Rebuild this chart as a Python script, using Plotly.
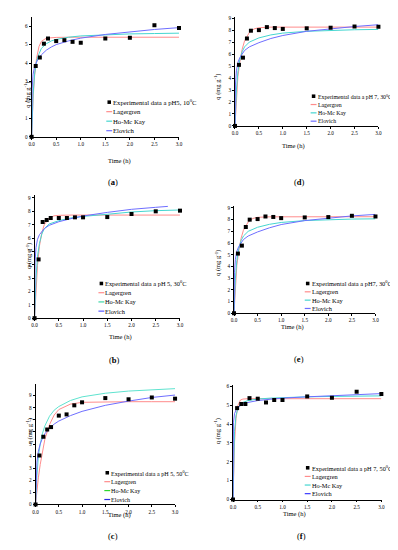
import plotly.graph_objects as go

W, H = 398, 550

# ---------------- data ----------------
t_exp = [0, 0.083, 0.167, 0.25, 0.333, 0.5, 0.667, 0.833, 1.0, 1.5, 2.0, 2.5, 3.0]
t_fit = [0, 0.01, 0.03, 0.06, 0.1, 0.15, 0.2, 0.3, 0.4, 0.5, 0.75, 1.0, 1.5, 2.0, 2.5, 3.0]
t_fit_b_elovich = [0, 0.01, 0.03, 0.06, 0.1, 0.15, 0.2, 0.3, 0.4, 0.5, 0.75, 1.0, 1.5, 2.0, 2.5, 2.75]

# (a) pH5, 10 C
q_a = [0, 3.84, 4.3, 5.05, 5.33, 5.19, 5.24, 5.15, 5.1, 5.33, 5.37, 6.05, 5.9]
lag_a = [0, 0.8, 2.1, 3.3, 4.25, 4.9, 5.18, 5.35, 5.38, 5.39, 5.4, 5.4, 5.4, 5.4, 5.4, 5.4]
ho_a = [0, 1.0, 2.3, 3.4, 4.1, 4.5, 4.8, 5.05, 5.2, 5.28, 5.4, 5.47, 5.54, 5.58, 5.6, 5.62]
elo_a = [0, 2.6, 3.4, 3.8, 4.05, 4.3, 4.45, 4.7, 4.87, 5.0, 5.2, 5.35, 5.55, 5.7, 5.82, 5.92]

# (b) pH 5, 30 C
q_b = [0, 4.4, 7.2, 7.35, 7.5, 7.5, 7.5, 7.55, 7.55, 7.57, 7.8, 8.0, 8.05]
lag_b = [0, 0.87, 2.33, 3.93, 5.39, 6.4, 7.0, 7.5, 7.66, 7.7, 7.72, 7.72, 7.72, 7.72, 7.72, 7.72]
ho_b = [0, 1.2, 3.0, 4.6, 5.6, 6.3, 6.7, 7.05, 7.2, 7.3, 7.5, 7.62, 7.78, 7.95, 8.05, 8.1]
elo_b = [0, 4.2, 5.3, 5.9, 6.25, 6.5, 6.7, 6.95, 7.1, 7.22, 7.45, 7.65, 7.92, 8.15, 8.3, 8.37]

# (c) pH 5, 50 C
q_c = [0, 4.05, 5.6, 6.2, 6.4, 7.35, 7.45, 8.2, 8.45, 8.8, 8.7, 8.85, 8.75]
lag_c = [0, 0.4, 1.2, 2.2, 3.3, 4.5, 5.4, 6.6, 7.4, 7.85, 8.3, 8.45, 8.5, 8.5, 8.5, 8.5]
ho_c = [0, 0.9, 2.4, 3.9, 5.0, 5.9, 6.5, 7.3, 7.8, 8.1, 8.6, 8.9, 9.2, 9.38, 9.5, 9.58]
elo_c = [0, 2.3, 3.5, 4.4, 5.0, 5.5, 5.85, 6.3, 6.65, 6.9, 7.35, 7.7, 8.2, 8.55, 8.85, 9.05]

# (d) pH 7, 30 C
q_d = [0, 5.1, 5.7, 7.3, 7.95, 8.0, 8.25, 8.17, 8.1, 8.15, 8.2, 8.3, 8.28]
lag_d = [0, 0.9, 2.3, 4.1, 5.3, 6.4, 7.1, 7.8, 8.1, 8.2, 8.25, 8.25, 8.25, 8.25, 8.25, 8.25]
ho_d = [0, 1.3, 3.0, 4.5, 5.5, 6.2, 6.6, 7.0, 7.2, 7.35, 7.6, 7.75, 7.9, 7.98, 8.03, 8.06]
elo_d = [0, 3.5, 4.6, 5.3, 5.7, 6.05, 6.3, 6.6, 6.8, 6.95, 7.3, 7.55, 7.9, 8.12, 8.3, 8.45]

# (e) pH7, 30 C
q_e = [0, 5.1, 5.78, 7.37, 8.0, 8.05, 8.27, 8.23, 8.13, 8.19, 8.22, 8.33, 8.27]
lag_e = [0, 0.9, 2.3, 4.1, 5.3, 6.4, 7.1, 7.8, 8.1, 8.2, 8.24, 8.25, 8.25, 8.25, 8.25, 8.25]
ho_e = [0, 1.3, 3.0, 4.5, 5.5, 6.2, 6.6, 7.0, 7.2, 7.35, 7.6, 7.76, 7.92, 8.0, 8.05, 8.07]
elo_e = [0, 3.5, 4.6, 5.3, 5.7, 6.05, 6.3, 6.6, 6.8, 6.95, 7.3, 7.58, 7.92, 8.15, 8.32, 8.45]

# (f) pH 7, 50 C
q_f = [0, 4.85, 5.07, 5.07, 5.38, 5.35, 5.15, 5.28, 5.28, 5.47, 5.4, 5.72, 5.6]
lag_f = [0, 1.4, 3.0, 4.3, 5.0, 5.28, 5.33, 5.35, 5.35, 5.35, 5.35, 5.35, 5.35, 5.35, 5.35, 5.35]
ho_f = [0, 1.9, 3.6, 4.45, 4.85, 5.05, 5.15, 5.25, 5.3, 5.33, 5.38, 5.41, 5.45, 5.47, 5.49, 5.5]
elo_f = [0, 4.1, 4.55, 4.75, 4.9, 5.0, 5.06, 5.15, 5.2, 5.25, 5.32, 5.38, 5.45, 5.52, 5.57, 5.62]

series_names = ["Lagergren", "Ho-Mc Kay", "Elovich"]
legend_titles = {
    "a": "Experimental data a pH5, 10<sup>0</sup>C",
    "b": "Experimental data a pH 5, 30<sup>0</sup>C",
    "c": "Experimental data a pH 5, 50<sup>0</sup>C",
    "d": "Experimental data a pH 7, 30<sup>0</sup>C",
    "e": "Experimental data a pH7, 30<sup>0</sup>C",
    "f": "Experimental data a pH 7, 50<sup>0</sup>C",
}
y_ticks_a = [0, 1, 2, 3, 4, 5, 6]
y_ticks_9 = [0, 1, 2, 3, 4, 5, 6, 7, 8, 9]
x_ticks = [0, 0.5, 1.0, 1.5, 2.0, 2.5, 3.0]
x_tick_labels = ["0.0", "0.5", "1.0", "1.5", "2.0", "2.5", "3.0"]

# ---------------- layout (pixels) ----------------
panels = [
    dict(k="a", q=q_a, lag=lag_a, ho=ho_a, elo=elo_a, t_elo=t_fit,
         xd=(21, 171), yd=(7, 128), yr=6.5, yt=y_ticks_a,
         xt=(97, 146), yt_pos=(10, 70), lab=(97, 167), leg=(97, 93, 9.6), fs=6.7),
    dict(k="d", q=q_d, lag=lag_d, ho=ho_d, elo=elo_d, t_elo=t_fit,
         xd=(228, 374), yd=(7, 117), yr=9.1, yt=y_ticks_9,
         xt=(301, 131), yt_pos=(210, 62), lab=(301, 167), leg=(305, 87, 8.4), fs=5.8),
    dict(k="b", q=q_b, lag=lag_b, ho=ho_b, elo=elo_b, t_elo=t_fit_b_elovich,
         xd=(24, 172), yd=(187, 311), yr=9.2, yt=y_ticks_9,
         xt=(98, 330), yt_pos=(12, 248), lab=(98, 353), leg=(89, 276, 9.3), fs=6.4),
    dict(k="e", q=q_e, lag=lag_e, ho=ho_e, elo=elo_e, t_elo=t_fit,
         xd=(227, 371), yd=(198, 306), yr=9.15, yt=y_ticks_9,
         xt=(300, 320), yt_pos=(211, 255), lab=(300, 352), leg=(299, 276, 8.4), fs=6.4),
    dict(k="c", q=q_c, lag=lag_c, ho=ho_c, elo=elo_c, t_elo=t_fit,
         xd=(25, 167), yd=(377, 499), yr=10.0, yt=y_ticks_9,
         xt=(97, 516), yt_pos=(12, 440), lab=(97, 538), leg=(95, 467, 9.0), fs=6.1),
    dict(k="f", q=q_f, lag=lag_f, ho=ho_f, elo=elo_f, t_elo=t_fit,
         xd=(226, 377), yd=(378, 494), yr=6.1, yt=y_ticks_a,
         xt=(302, 515), yt_pos=(210, 440), lab=(302, 538), leg=(299, 462, 8.7), fs=6.3),
]

col_lag = "#ff8c8c"
col_ho = "#45d6d0"
col_elo = "#6e6eff"
legend_colors = {
    "a": (col_lag, col_ho, col_elo),
    "b": (col_lag, "#3fd6a8", "#5a5aff"),
    "c": (col_lag, "#2ed82e", "#2a2ae0"),
    "d": (col_lag, col_ho, col_elo),
    "e": (col_lag, col_ho, col_elo),
    "f": (col_lag, col_ho, "#3a3aff"),
}
curve_ho_colors = {"c": "#5fe3cf"}

FONT = "Liberation Serif"

def px(x):
    return x / W

def py(y):
    return 1 - y / H

fig = go.Figure()
annotations = []
shapes = []

for i, p in enumerate(panels, start=1):
    xa = "x" if i == 1 else f"x{i}"
    ya = "y" if i == 1 else f"y{i}"
    ho_col = curve_ho_colors.get(p["k"], col_ho)
    fig.add_trace(go.Scatter(x=t_fit, y=p["lag"], mode="lines", line=dict(color=col_lag, width=1),
                             xaxis=xa, yaxis=ya, showlegend=False, hoverinfo="skip"))
    fig.add_trace(go.Scatter(x=t_fit, y=p["ho"], mode="lines", line=dict(color=ho_col, width=1),
                             xaxis=xa, yaxis=ya, showlegend=False, hoverinfo="skip"))
    fig.add_trace(go.Scatter(x=p["t_elo"], y=p["elo"], mode="lines", line=dict(color=col_elo, width=1),
                             xaxis=xa, yaxis=ya, showlegend=False, hoverinfo="skip"))
    fig.add_trace(go.Scatter(x=t_exp, y=p["q"], mode="markers",
                             marker=dict(symbol="square", size=4, color="black"),
                             xaxis=xa, yaxis=ya, showlegend=False, hoverinfo="skip", cliponaxis=False))

    axcommon = dict(showline=True, linecolor="black", linewidth=0.8, showgrid=False, zeroline=False,
                    ticks="outside", ticklen=2, tickwidth=0.6, tickcolor="black",
                    tickfont=dict(family=FONT, size=5.2, color="black"))
    sfx = "" if i == 1 else str(i)
    fig.update_layout(**{
        f"xaxis{sfx}": dict(domain=[px(p["xd"][0]), px(p["xd"][1])], range=[0, 3.0],
                            tickvals=x_ticks, ticktext=x_tick_labels, anchor=ya, **axcommon),
        f"yaxis{sfx}": dict(domain=[py(p["yd"][1]), py(p["yd"][0])], range=[0, p["yr"]],
                            tickvals=p["yt"], anchor=xa, **axcommon),
    })

    # axis titles and panel label
    annotations.append(dict(x=px(p["xt"][0]), y=py(p["xt"][1]), xref="paper", yref="paper",
                            text="Time (h)", showarrow=False, font=dict(family=FONT, size=6.5, color="black")))
    annotations.append(dict(x=px(p["yt_pos"][0]), y=py(p["yt_pos"][1]), xref="paper", yref="paper",
                            text="q (mg g<sup>-1</sup>)", textangle=-90, showarrow=False,
                            font=dict(family=FONT, size=6.5, color="black")))
    annotations.append(dict(x=px(p["lab"][0]), y=py(p["lab"][1]), xref="paper", yref="paper",
                            text=f"(<b>{p['k']}</b>)", showarrow=False,
                            font=dict(family=FONT, size=8.5, color="black")))

    # legend (drawn manually)
    lx, ly, dy = p["leg"]
    texts = [legend_titles[p["k"]]] + series_names
    cols = legend_colors[p["k"]]
    for j, txt in enumerate(texts):
        yy = ly + j * dy
        annotations.append(dict(x=px(lx + 6), y=py(yy), xref="paper", yref="paper", xanchor="left",
                                yanchor="middle", text=txt, showarrow=False, borderpad=0,
                                font=dict(family=FONT, size=p["fs"], color="black")))
        if j == 0:
            shapes.append(dict(type="rect", xref="paper", yref="paper",
                               x0=px(lx + 1.2), x1=px(lx + 4.8), y0=py(yy + 1.8), y1=py(yy - 1.8),
                               fillcolor="black", line=dict(width=0)))
        else:
            shapes.append(dict(type="line", xref="paper", yref="paper",
                               x0=px(lx), x1=px(lx + 6), y0=py(yy), y1=py(yy),
                               line=dict(color=cols[j - 1], width=1.2)))

fig.update_layout(width=W, height=H, margin=dict(l=0, r=0, t=0, b=0),
                  paper_bgcolor="white", plot_bgcolor="white",
                  annotations=annotations, shapes=shapes, showlegend=False)

fig.write_html("out.html")
